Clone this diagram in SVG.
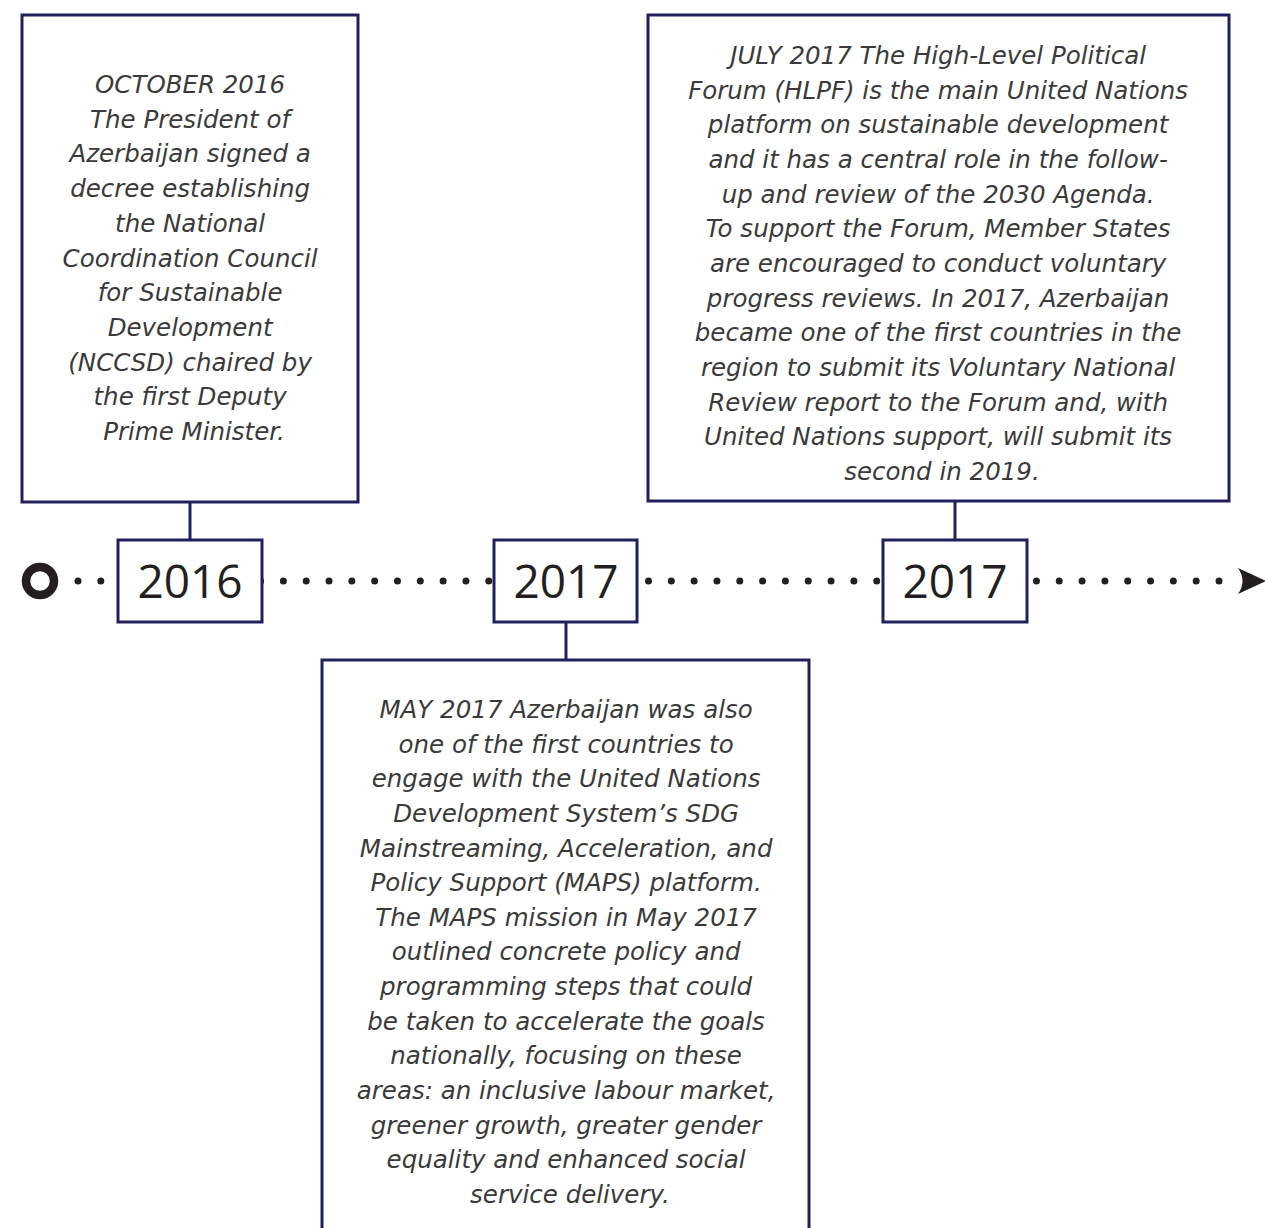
<svg xmlns="http://www.w3.org/2000/svg" width="1265" height="1228" viewBox="0 0 1265 1228">
<style>
.box{fill:#ffffff;stroke:#22205c;stroke-width:3}
.conn{stroke:#22205c;stroke-width:3;fill:none}
.txt{font-family:"DejaVu Sans","Liberation Sans",sans-serif;font-style:italic;font-weight:200;font-size:24.5px;fill:#3a3a3a;text-anchor:middle}
.year{font-family:"Open Sans","Liberation Sans",sans-serif;font-size:46px;fill:#231f20;text-anchor:middle}
</style>
<rect width="1265" height="1228" fill="#ffffff"/>
<g id="timeline">
<line x1="78" y1="581" x2="1220" y2="581" stroke="#231f20" stroke-width="7" stroke-linecap="round" stroke-dasharray="0 22.82"/>
<circle cx="40" cy="581" r="14" fill="none" stroke="#231f20" stroke-width="8.5"/>
<path d="M1238,568 L1266,581 L1238,594 Q1247,581 1238,568 Z" fill="#231f20"/>
</g>
<g id="connectors">
<line class="conn" x1="190" y1="502" x2="190" y2="540"/>
<line class="conn" x1="566" y1="622" x2="566" y2="660"/>
<line class="conn" x1="955" y1="501" x2="955" y2="540"/>
</g>
<g id="event-oct-2016">
<rect class="box" x="22" y="15" width="336" height="487"/>
<text class="txt">
<tspan x="194" y="93">OCTOBER 2016</tspan>
<tspan x="194" y="127.7">The President of</tspan>
<tspan x="194" y="162.4">Azerbaijan signed a</tspan>
<tspan x="194" y="197.1">decree establishing</tspan>
<tspan x="194" y="231.8">the National</tspan>
<tspan x="194" y="266.5">Coordination Council</tspan>
<tspan x="194" y="301.2">for Sustainable</tspan>
<tspan x="194" y="335.9">Development</tspan>
<tspan x="194" y="370.6">(NCCSD) chaired by</tspan>
<tspan x="194" y="405.3">the first Deputy</tspan>
<tspan x="194" y="440">Prime Minister.</tspan>
</text>
</g>
<g id="event-jul-2017">
<rect class="box" x="648" y="15" width="581" height="486"/>
<text class="txt">
<tspan x="942" y="64">JULY 2017 The High-Level Political</tspan>
<tspan x="942" y="98.67">Forum (HLPF) is the main United Nations</tspan>
<tspan x="942" y="133.33">platform on sustainable development</tspan>
<tspan x="942" y="168">and it has a central role in the follow-</tspan>
<tspan x="942" y="202.67">up and review of the 2030 Agenda.</tspan>
<tspan x="942" y="237.33">To support the Forum, Member States</tspan>
<tspan x="942" y="272">are encouraged to conduct voluntary</tspan>
<tspan x="942" y="306.67">progress reviews. In 2017, Azerbaijan</tspan>
<tspan x="942" y="341.33">became one of the first countries in the</tspan>
<tspan x="942" y="376">region to submit its Voluntary National</tspan>
<tspan x="942" y="410.67">Review report to the Forum and, with</tspan>
<tspan x="942" y="445.33">United Nations support, will submit its</tspan>
<tspan x="942" y="480">second in 2019.</tspan>
</text>
</g>
<g id="event-may-2017">
<rect class="box" x="322" y="660" width="487" height="600"/>
<text class="txt">
<tspan x="570" y="718">MAY 2017 Azerbaijan was also</tspan>
<tspan x="570" y="752.64">one of the first countries to</tspan>
<tspan x="570" y="787.28">engage with the United Nations</tspan>
<tspan x="570" y="821.92">Development System’s SDG</tspan>
<tspan x="570" y="856.56">Mainstreaming, Acceleration, and</tspan>
<tspan x="570" y="891.2">Policy Support (MAPS) platform.</tspan>
<tspan x="570" y="925.84">The MAPS mission in May 2017</tspan>
<tspan x="570" y="960.48">outlined concrete policy and</tspan>
<tspan x="570" y="995.12">programming steps that could</tspan>
<tspan x="570" y="1029.76">be taken to accelerate the goals</tspan>
<tspan x="570" y="1064.4">nationally, focusing on these</tspan>
<tspan x="570" y="1099.04">areas: an inclusive labour market,</tspan>
<tspan x="570" y="1133.68">greener growth, greater gender</tspan>
<tspan x="570" y="1168.32">equality and enhanced social</tspan>
<tspan x="570" y="1202.96">service delivery.</tspan>
</text>
</g>
<g id="year-2016">
<rect class="box" x="118" y="540" width="144" height="82"/>
<text class="year" x="190" y="598">2016</text>
</g>
<g id="year-2017-may">
<rect class="box" x="494" y="540" width="143" height="82"/>
<text class="year" x="566" y="598">2017</text>
</g>
<g id="year-2017-jul">
<rect class="box" x="883" y="540" width="144" height="82"/>
<text class="year" x="955" y="598">2017</text>
</g>
</svg>
